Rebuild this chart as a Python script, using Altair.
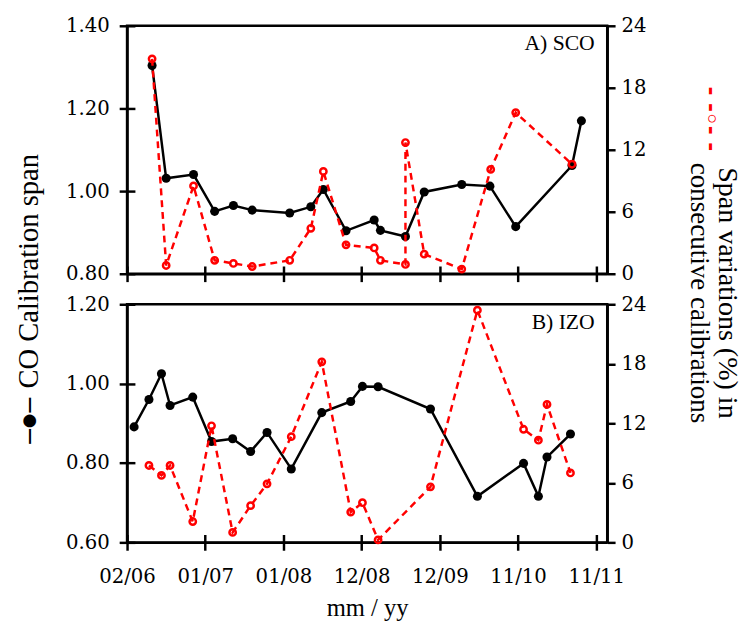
import altair as alt
import pandas as pd

# x positions are given in "tick units": 0 = first tick (02/06), 1 = next tick, ...
tick_labels = ["02/06", "01/07", "01/08", "12/08", "12/09", "11/10", "11/11"]
x_end = 6.14

# Panel A) SCO
sco_x = [0.32, 0.50, 0.85, 1.12, 1.36, 1.60, 2.08, 2.35, 2.51, 2.80, 3.16, 3.24, 3.56, 3.80, 4.28, 4.64, 4.97, 5.69, 5.81]
sco_span = [1.304, 1.031, 1.040, 0.951, 0.965, 0.954, 0.947, 0.962, 1.004, 0.904, 0.930, 0.905, 0.890, 0.998, 1.016, 1.012, 0.914, 1.062, 1.170]
sco_var_x = [0.32, 0.50, 0.85, 1.12, 1.36, 1.60, 2.08, 2.35, 2.51, 2.80, 3.16, 3.24, 3.56, 3.56, 3.80, 4.28, 4.65, 4.97, 5.69]
sco_var = [20.8, 0.8, 8.5, 1.3, 1.0, 0.7, 1.3, 4.4, 9.9, 2.8, 2.5, 1.3, 0.9, 12.7, 1.9, 0.45, 10.1, 15.6, 10.6]

# Panel B) IZO
izo_x = [0.09, 0.28, 0.44, 0.55, 0.84, 1.08, 1.35, 1.58, 1.79, 2.10, 2.49, 2.86, 3.01, 3.21, 3.88, 4.48, 5.07, 5.26, 5.37, 5.67]
izo_span = [0.891, 0.960, 1.025, 0.945, 0.966, 0.854, 0.861, 0.829, 0.877, 0.785, 0.927, 0.955, 0.993, 0.992, 0.936, 0.716, 0.799, 0.716, 0.815, 0.873]
izo_var_x = [0.28, 0.44, 0.55, 0.84, 1.08, 1.35, 1.58, 1.79, 2.10, 2.49, 2.86, 3.01, 3.21, 3.88, 4.48, 5.07, 5.26, 5.37, 5.67]
izo_var = [7.75, 6.75, 7.75, 2.1, 11.75, 1.0, 3.7, 5.9, 10.65, 18.2, 3.05, 4.0, 0.25, 5.6, 23.4, 11.4, 10.3, 13.9, 7.0]

sco_ticks = [0.8, 1.0, 1.2, 1.4]
izo_ticks = [0.6, 0.8, 1.0, 1.2]
var_ticks = [0, 6, 12, 18, 24]

# panel tags, placed in data units (x: tick units, y: right-axis %)
tag_x = 5.98
sco_tag = ("A) SCO", 22.3)
izo_tag = ("B) IZO", 22.2)

left_title = "CO Calibration span"
left_symbol = "\u2014\u25cf\u2014"
right_title_1 = "Span variations (%) in"
right_title_2 = "consecutive calibrations"
right_symbol = "- -\u25e6- -"
x_title = "mm / yy"

LW = 2.5
LBL_FONT = "DejaVu Serif, Liberation Serif, serif"
TTL_FONT = "Liberation Serif, Times New Roman, serif"
SYM_FONT = "DejaVu Sans, sans-serif"
W = 488
H_TOP = 252
H_BOT = 242

label_expr = "[" + ",".join("'%s'" % t for t in tick_labels) + "][datum.value]"


def x_enc(h, bottom):
    common = dict(values=list(range(len(tick_labels))), gridDash=[0, h - 8, 8, 4000])
    if bottom:
        ax = alt.Axis(labelExpr=label_expr, labelFlush=False, labelPadding=17, title=x_title,
                      titleFontSize=25, titlePadding=9, titleBaseline="top", **common)
    else:
        # the bottom-x axis of the upper panel carries the 2nd line of the right-hand title
        ax = alt.Axis(labels=False, title=right_title_2, titleFontSize=27.5, titleAngle=90,
                      titleX=581, titleY=19, **common)
    return alt.X("x:Q", scale=alt.Scale(domain=[0, x_end], nice=False, zero=False), axis=ax)


def panel(xs, span, vx, var, span_ticks, h, bottom, tag, l_title, left_kw, r_title, right_kw):
    df_s = pd.DataFrame({"x": xs, "v": span, "i": list(range(len(xs)))})
    df_r = pd.DataFrame({"x": vx, "v": var, "i": list(range(len(vx)))})
    df_t = pd.DataFrame({"x": [tag_x], "v": [tag[1]], "t": [tag[0]]})
    X = x_enc(h, bottom)
    y_left = alt.Y("v:Q", scale=alt.Scale(domain=[span_ticks[0], span_ticks[-1]], nice=False, zero=False),
                   axis=alt.Axis(orient="left", values=span_ticks, format=".2f", labelPadding=10,
                                 gridDash=[8, 4000], title=l_title, **left_kw))
    y_right = alt.Y("v:Q", scale=alt.Scale(domain=[0, 24], nice=False, zero=False),
                    axis=alt.Axis(orient="right", values=var_ticks, format="d", labelPadding=6,
                                  gridDash=[8, 4000], title=r_title, **right_kw))
    b = alt.Chart(df_s).encode(x=X, y=y_left, order="i:Q")
    black = alt.layer(
        b.mark_line(color="black", strokeWidth=LW),
        b.mark_point(filled=True, color="black", size=85, opacity=1),
    )
    r = alt.Chart(df_r).encode(x=X, y=y_right, order="i:Q")
    red = alt.layer(
        r.mark_line(color="#ff0000", strokeWidth=LW, strokeDash=[7, 5]),
        r.mark_point(filled=False, color="#ff0000", size=42, strokeWidth=LW, opacity=1),
        alt.Chart(df_t).mark_text(align="right", baseline="middle", font=TTL_FONT, fontSize=22,
                                  color="black").encode(x=X, y=y_right, text="t:N"),
    )
    return alt.layer(black, red).resolve_scale(y="independent").properties(width=W, height=h)


top = panel(
    sco_x, sco_span, sco_var_x, sco_var, sco_ticks, H_TOP, False, sco_tag,
    left_title,
    dict(titleFontSize=29, titleAngle=270, titleX=-100, titleY=249),
    right_title_1,
    dict(titleFontSize=28.5, titleAngle=90, titleX=122, titleY=271),
)
bot = panel(
    izo_x, izo_span, izo_var_x, izo_var, izo_ticks, H_BOT, True, izo_tag,
    left_symbol,
    dict(titleFont=SYM_FONT, titleFontSize=17, titleFontWeight="bold", titleAngle=270, titleX=-100,
         titleY=118),
    right_symbol,
    dict(titleFont=SYM_FONT, titleFontSize=22, titleFontWeight="bold", titleColor="#ff0000", titleAngle=90,
         titleX=105, titleY=-189),
)

chart = alt.vconcat(top, bot, spacing=31, bounds="flush").properties(
    padding={"left": 5, "top": 1, "right": 0, "bottom": 5}
).configure_view(
    stroke="black", strokeWidth=LW
).configure_axis(
    labelFont=LBL_FONT, labelFontSize=20, labelColor="black", labelOverlap=False,
    titleFont=TTL_FONT, titleFontWeight="normal", titleColor="black",
    titleAlign="center", titleBaseline="middle",
    tickSize=8, tickWidth=LW, tickColor="black",
    domainColor="black", domainWidth=LW,
    grid=True, gridColor="black", gridWidth=LW, gridOpacity=1,
)

chart.save("out.html", embed_options={"renderer": "svg", "actions": False})
